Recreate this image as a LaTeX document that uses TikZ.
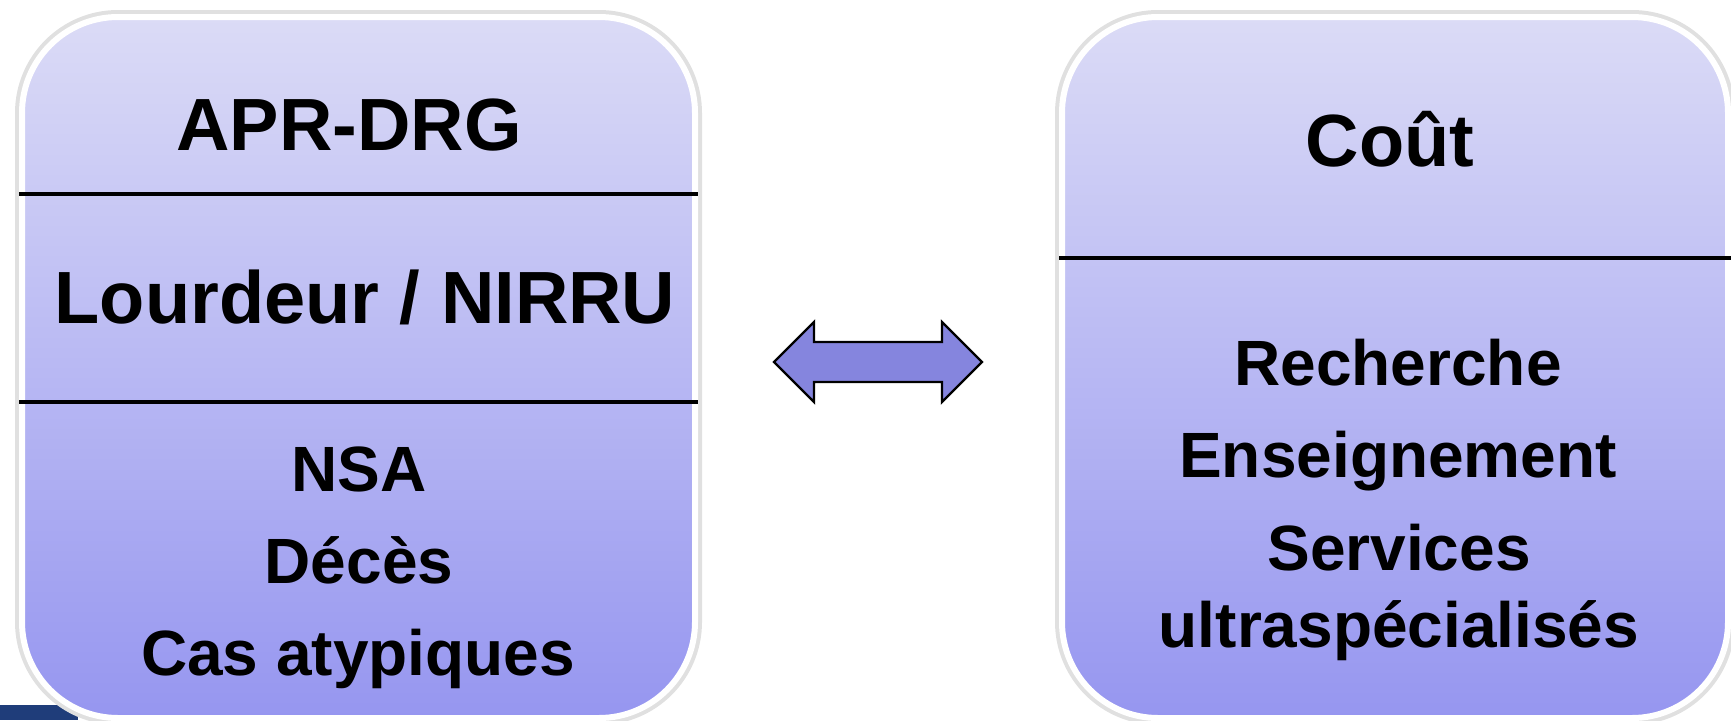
\documentclass[tikz,border=0pt]{standalone}
\usepackage{fontspec}
\setmainfont{Liberation Sans}
\usetikzlibrary{positioning,calc}
\definecolor{boxtop}{RGB}{219,219,246}
\definecolor{boxbot}{RGB}{150,150,240}
\definecolor{arrowfill}{RGB}{133,133,222}
\definecolor{slideblue}{RGB}{31,61,122}
\newcommand*{\hd}[1]{\fontsize{74}{80}\selectfont\bfseries #1}
\newcommand*{\bd}[1]{\fontsize{64}{77}\selectfont\bfseries #1}

\begin{document}
\begin{tikzpicture}[x=1pt,y=-1pt,
  panel/.style={rounded corners=96pt,minimum width=673pt,minimum height=701pt,
    top color=boxtop,bottom color=boxbot,draw=white,line width=6pt,
    preaction={draw=black!12,line width=14pt},inner sep=0pt},
  rule/.style={line width=3.4pt},
  lbl/.style={anchor=base,inner sep=0pt},
  dblarrow/.style={fill=arrowfill,draw=black,line width=2.4pt,line join=miter}]
\useasboundingbox (0,0) rectangle (1731,720);
% Corner of the slide band
\fill[slideblue] (0,705) rectangle (78,720);
% Two panels side by side
\node[panel] (lpanel) at (358.5,367.5) {};
\node[panel,minimum width=666pt] (rpanel) at (1395,367.5) {};
% Separators inside the panels
\draw[rule] (lpanel.west |- 0,194) -- (lpanel.east |- 0,194);
\draw[rule] (lpanel.west |- 0,402) -- (lpanel.east |- 0,402);
\draw[rule] (rpanel.west |- 0,258) -- (rpanel.east |- 0,258);
% Left panel texts
\node[lbl] (apr) at (349,150) {\hd{APR-DRG}};
\node[lbl] (lourd) at (365,323) {\hd{Lourdeur / NIRRU}};
\node[lbl] (nsa) at (359,491) {\bd{NSA}};
\node[lbl] (deces) at (359,583) {\bd{Décès}};
\node[lbl] (cas) at (358,675) {\bd{Cas atypiques}};
% Right panel texts
\node[lbl] (cout) at (1390,166) {\hd{Coût}};
\node[lbl] (rech) at (1398,385) {\bd{Recherche}};
\node[lbl] (ens) at (1398,477) {\bd{Enseignement}};
\node[lbl] (serv) at (1399,570) {\bd{Services}};
\node[lbl] (ultra) at (1399,647) {\bd{ultraspécialisés}};
% Two-headed block arrow between the panels
\coordinate (mid) at (878,362);
\draw[dblarrow] ($(mid)+(-104,0)$) -- ++(40,-40) -- ++(0,20) -- ++(128,0)
  -- ++(0,-20) -- ++(40,40) -- ++(-40,40) -- ++(0,-20) -- ++(-128,0)
  -- ++(0,20) -- cycle;
\end{tikzpicture}
\end{document}
